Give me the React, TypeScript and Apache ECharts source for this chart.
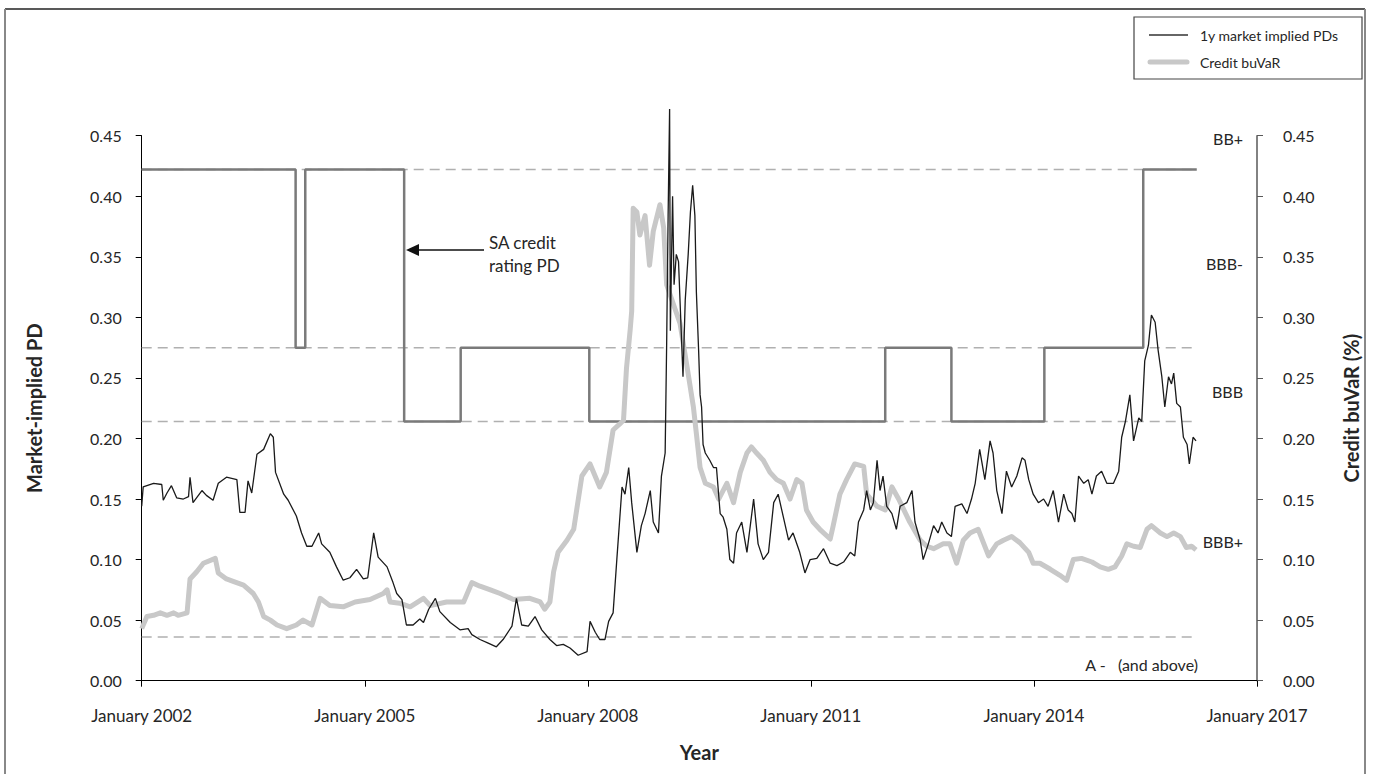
import React, { useEffect, useRef } from "react";
import * as echarts from "echarts";

// x-axis tick years (labels "January YYYY")
const xTicks = [2002, 2005, 2008, 2011, 2014, 2017];

// 1y market implied PDs: [decimal year, PD]
const marketPD: [number, number][] = [
  [2002.0, 0.144], [2002.02, 0.16], [2002.16, 0.163], [2002.27, 0.162], [2002.29, 0.149], [2002.34, 0.155],
  [2002.4, 0.161], [2002.47, 0.151], [2002.56, 0.15], [2002.63, 0.152], [2002.65, 0.168], [2002.69, 0.147],
  [2002.81, 0.157], [2002.87, 0.153], [2002.96, 0.149], [2003.03, 0.163], [2003.14, 0.168], [2003.28, 0.166],
  [2003.32, 0.139], [2003.39, 0.139], [2003.43, 0.165], [2003.48, 0.155], [2003.55, 0.187], [2003.64, 0.191],
  [2003.73, 0.204], [2003.77, 0.201], [2003.8, 0.172], [2003.91, 0.154], [2003.97, 0.149], [2004.08, 0.136],
  [2004.15, 0.122], [2004.22, 0.111], [2004.29, 0.111], [2004.38, 0.122], [2004.42, 0.113], [2004.53, 0.106],
  [2004.62, 0.094], [2004.71, 0.083], [2004.8, 0.085], [2004.89, 0.092], [2004.98, 0.084], [2005.04, 0.085],
  [2005.12, 0.122], [2005.18, 0.102], [2005.3, 0.094], [2005.38, 0.081], [2005.43, 0.072], [2005.5, 0.067],
  [2005.56, 0.046], [2005.65, 0.046], [2005.74, 0.051], [2005.79, 0.048], [2005.86, 0.059], [2005.95, 0.068],
  [2006.01, 0.057], [2006.15, 0.048], [2006.28, 0.042], [2006.39, 0.043], [2006.44, 0.038], [2006.55, 0.034],
  [2006.66, 0.031], [2006.77, 0.028], [2006.86, 0.034], [2006.98, 0.045], [2007.04, 0.068], [2007.11, 0.046],
  [2007.2, 0.045], [2007.29, 0.053], [2007.38, 0.042], [2007.49, 0.034], [2007.58, 0.029], [2007.67, 0.03],
  [2007.76, 0.027], [2007.87, 0.021], [2007.99, 0.024], [2008.03, 0.049], [2008.1, 0.04], [2008.16, 0.034],
  [2008.23, 0.034], [2008.28, 0.049], [2008.34, 0.056], [2008.39, 0.1], [2008.46, 0.16], [2008.5, 0.154],
  [2008.55, 0.176], [2008.59, 0.147], [2008.66, 0.106], [2008.72, 0.128], [2008.77, 0.138], [2008.84, 0.157],
  [2008.88, 0.131], [2008.95, 0.122], [2008.99, 0.169], [2009.04, 0.188], [2009.06, 0.277], [2009.08, 0.384],
  [2009.1, 0.472], [2009.11, 0.289], [2009.14, 0.4], [2009.16, 0.327], [2009.19, 0.352], [2009.22, 0.346],
  [2009.24, 0.314], [2009.28, 0.251], [2009.31, 0.314], [2009.35, 0.352], [2009.38, 0.387], [2009.41, 0.409],
  [2009.44, 0.384], [2009.46, 0.321], [2009.49, 0.273], [2009.51, 0.236], [2009.53, 0.226], [2009.55, 0.195],
  [2009.58, 0.188], [2009.64, 0.182], [2009.69, 0.176], [2009.73, 0.176], [2009.78, 0.138], [2009.82, 0.135],
  [2009.87, 0.125], [2009.91, 0.1], [2009.96, 0.097], [2010.0, 0.122], [2010.07, 0.131], [2010.14, 0.106],
  [2010.23, 0.15], [2010.29, 0.113], [2010.36, 0.1], [2010.43, 0.106], [2010.5, 0.147], [2010.56, 0.154],
  [2010.63, 0.135], [2010.7, 0.116], [2010.76, 0.122], [2010.85, 0.106], [2010.92, 0.089], [2010.99, 0.1],
  [2011.08, 0.101], [2011.17, 0.109], [2011.26, 0.097], [2011.35, 0.095], [2011.44, 0.098], [2011.53, 0.106],
  [2011.59, 0.103], [2011.64, 0.131], [2011.71, 0.141], [2011.75, 0.157], [2011.8, 0.141], [2011.84, 0.147],
  [2011.89, 0.182], [2011.93, 0.157], [2011.97, 0.169], [2012.02, 0.144], [2012.09, 0.138], [2012.15, 0.125],
  [2012.2, 0.144], [2012.29, 0.147], [2012.36, 0.157], [2012.4, 0.131], [2012.47, 0.116], [2012.51, 0.1],
  [2012.58, 0.113], [2012.65, 0.128], [2012.71, 0.122], [2012.76, 0.131], [2012.83, 0.122], [2012.89, 0.119],
  [2012.94, 0.144], [2013.03, 0.146], [2013.1, 0.138], [2013.16, 0.15], [2013.21, 0.163], [2013.27, 0.191],
  [2013.34, 0.166], [2013.41, 0.198], [2013.45, 0.188], [2013.5, 0.157], [2013.57, 0.138], [2013.63, 0.173],
  [2013.7, 0.16], [2013.77, 0.169], [2013.84, 0.184], [2013.88, 0.182], [2013.93, 0.166], [2013.99, 0.154],
  [2014.06, 0.147], [2014.13, 0.15], [2014.19, 0.144], [2014.26, 0.157], [2014.33, 0.131], [2014.4, 0.154],
  [2014.46, 0.141], [2014.51, 0.138], [2014.55, 0.131], [2014.6, 0.169], [2014.67, 0.163], [2014.73, 0.166],
  [2014.78, 0.154], [2014.84, 0.169], [2014.91, 0.173], [2014.98, 0.163], [2015.07, 0.163], [2015.14, 0.173],
  [2015.18, 0.201], [2015.23, 0.214], [2015.29, 0.236], [2015.34, 0.198], [2015.41, 0.217], [2015.45, 0.214],
  [2015.49, 0.264], [2015.54, 0.277], [2015.58, 0.302], [2015.63, 0.296], [2015.67, 0.273], [2015.72, 0.251],
  [2015.76, 0.226], [2015.81, 0.251], [2015.85, 0.245], [2015.88, 0.254], [2015.92, 0.229], [2015.97, 0.226],
  [2016.01, 0.201], [2016.06, 0.195], [2016.09, 0.179], [2016.14, 0.201], [2016.18, 0.198],
];

// Credit buVaR (%): [decimal year, value]
const creditBuVaR: [number, number][] = [
  [2002.0, 0.043], [2002.07, 0.053], [2002.16, 0.054], [2002.25, 0.056], [2002.34, 0.054], [2002.43, 0.056],
  [2002.49, 0.054], [2002.61, 0.056], [2002.65, 0.084], [2002.74, 0.09], [2002.83, 0.097], [2002.99, 0.101],
  [2003.03, 0.089], [2003.14, 0.084], [2003.23, 0.082], [2003.37, 0.079], [2003.5, 0.072], [2003.57, 0.065],
  [2003.64, 0.053], [2003.73, 0.05], [2003.82, 0.046], [2003.95, 0.043], [2004.08, 0.046], [2004.17, 0.05],
  [2004.29, 0.046], [2004.4, 0.068], [2004.53, 0.062], [2004.71, 0.061], [2004.87, 0.065], [2005.07, 0.067],
  [2005.25, 0.072], [2005.3, 0.075], [2005.34, 0.065], [2005.47, 0.064], [2005.61, 0.061], [2005.79, 0.068],
  [2005.88, 0.062], [2006.1, 0.065], [2006.33, 0.065], [2006.44, 0.081], [2006.55, 0.078], [2006.69, 0.075],
  [2006.82, 0.072], [2007.0, 0.067], [2007.22, 0.068], [2007.36, 0.065], [2007.42, 0.059], [2007.49, 0.065],
  [2007.54, 0.09], [2007.6, 0.106], [2007.72, 0.116], [2007.81, 0.125], [2007.92, 0.169], [2008.03, 0.179],
  [2008.16, 0.16], [2008.25, 0.172], [2008.34, 0.207], [2008.43, 0.212], [2008.48, 0.215], [2008.52, 0.258],
  [2008.57, 0.29], [2008.59, 0.305], [2008.61, 0.39], [2008.66, 0.387], [2008.7, 0.368], [2008.77, 0.384],
  [2008.83, 0.343], [2008.88, 0.371], [2008.97, 0.393], [2009.02, 0.374], [2009.06, 0.327], [2009.15, 0.311],
  [2009.24, 0.295], [2009.33, 0.261], [2009.42, 0.226], [2009.46, 0.204], [2009.51, 0.176], [2009.58, 0.163],
  [2009.69, 0.16], [2009.76, 0.15], [2009.87, 0.163], [2009.96, 0.147], [2010.05, 0.172], [2010.14, 0.188],
  [2010.2, 0.193], [2010.27, 0.188], [2010.36, 0.182], [2010.45, 0.172], [2010.54, 0.166], [2010.63, 0.163],
  [2010.72, 0.15], [2010.81, 0.166], [2010.88, 0.163], [2010.94, 0.141], [2011.03, 0.131], [2011.12, 0.125],
  [2011.26, 0.117], [2011.3, 0.128], [2011.39, 0.154], [2011.48, 0.166], [2011.59, 0.179], [2011.71, 0.177],
  [2011.75, 0.154], [2011.89, 0.144], [2012.0, 0.141], [2012.09, 0.16], [2012.18, 0.15], [2012.33, 0.131],
  [2012.47, 0.116], [2012.56, 0.111], [2012.65, 0.109], [2012.78, 0.113], [2012.87, 0.113], [2012.96, 0.097],
  [2013.05, 0.116], [2013.14, 0.122], [2013.25, 0.125], [2013.39, 0.103], [2013.5, 0.113], [2013.59, 0.116],
  [2013.7, 0.119], [2013.81, 0.114], [2013.93, 0.106], [2013.99, 0.097], [2014.08, 0.097], [2014.22, 0.092],
  [2014.35, 0.087], [2014.44, 0.083], [2014.53, 0.1], [2014.64, 0.101], [2014.78, 0.098], [2014.89, 0.094],
  [2015.0, 0.092], [2015.09, 0.094], [2015.18, 0.103], [2015.25, 0.113], [2015.34, 0.111], [2015.43, 0.11],
  [2015.52, 0.125], [2015.58, 0.128], [2015.7, 0.122], [2015.79, 0.119], [2015.88, 0.122], [2015.97, 0.119],
  [2016.05, 0.11], [2016.12, 0.111], [2016.18, 0.108],
];

// SA credit rating PD (step changes): [decimal year, PD]
const ratingPD: [number, number][] = [
  [2002.0, 0.422], [2004.07, 0.275], [2004.2, 0.422], [2005.53, 0.214], [2006.29, 0.275], [2008.02, 0.214],
  [2012.0, 0.275], [2012.89, 0.214], [2014.14, 0.275], [2015.47, 0.422], [2016.19, 0.422],
];

// Rating band boundaries (dashed lines) and their span
const bandLevels = [0.422, 0.275, 0.214, 0.036];
const bandSpan = [2002.0, 2016.19];
const bandLabels = ["BB+", "BBB-", "BBB", "BBB+", "A -   (and above)"];

const FONT = "Lato, 'Open Sans', sans-serif";
const TXT = "#262626";

export default function App() {
  const ref = useRef<HTMLDivElement>(null);
  useEffect(() => {
    if (!ref.current) return;
    const chart = echarts.init(ref.current, undefined, { renderer: "svg" });

    const dashedSeries = bandLevels.map((lvl, i) => ({
      name: "band" + i,
      type: "line",
      data: [[bandSpan[0], lvl], [bandSpan[1], lvl]],
      symbol: "none",
      silent: true,
      lineStyle: { color: "#b0b0b0", width: 1.5, type: [10, 6] },
      z: 1,
    }));

    const labelY = [138, 263, 391, 541, 664];

    chart.setOption({
      animation: false,
      backgroundColor: "#ffffff",
      textStyle: { fontFamily: FONT },
      grid: { left: 141.7, right: 116, top: 135.7, bottom: 93.3, containLabel: false },
      xAxis: {
        type: "value",
        min: xTicks[0],
        max: xTicks[xTicks.length - 1],
        interval: 3,
        axisLine: { lineStyle: { color: "#000", width: 1 } },
        axisTick: { length: 6, lineStyle: { color: "#000" } },
        splitLine: { show: false },
        axisLabel: {
          formatter: (v: number) => "January " + v,
          margin: 26,
          fontSize: 17,
          color: TXT,
          fontFamily: FONT,
        },
        name: "Year",
        nameLocation: "middle",
        nameGap: 61,
        nameTextStyle: { fontSize: 20, fontWeight: "bold", color: TXT, fontFamily: FONT },
      },
      yAxis: [
        {
          type: "value",
          min: 0,
          max: 0.45,
          interval: 0.05,
          position: "left",
          axisLine: { show: true, lineStyle: { color: "#000", width: 1 } },
          axisTick: { show: true, length: 6, lineStyle: { color: "#000" } },
          splitLine: { show: false },
          axisLabel: { formatter: (v: number) => v.toFixed(2), margin: 20, fontSize: 16, color: TXT, fontFamily: FONT },
          name: "Market-implied PD",
          nameLocation: "middle",
          nameGap: 98,
          nameTextStyle: { fontSize: 20, fontWeight: "bold", color: TXT, fontFamily: FONT },
        },
        {
          type: "value",
          min: 0,
          max: 0.45,
          interval: 0.05,
          position: "right",
          axisLine: { show: true, lineStyle: { color: "#595959", width: 1.5 } },
          axisTick: { show: true, length: 6, lineStyle: { color: "#595959" } },
          splitLine: { show: false },
          axisLabel: { formatter: (v: number) => v.toFixed(2), margin: 26, fontSize: 16, color: TXT, fontFamily: FONT },
          name: "Credit buVaR (%)",
          nameLocation: "middle",
          nameGap: 84,
          nameRotate: 90,
          nameTextStyle: { fontSize: 20, fontWeight: "bold", color: TXT, fontFamily: FONT },
        },
      ],
      series: [
        ...dashedSeries,
        {
          name: "SA credit rating PD",
          type: "line",
          step: "end",
          data: ratingPD,
          symbol: "none",
          lineStyle: { color: "#7a7a7a", width: 2.5 },
          z: 2,
        },
        {
          name: "Credit buVaR",
          type: "line",
          yAxisIndex: 1,
          data: creditBuVaR,
          symbol: "none",
          lineStyle: { color: "#c8c8c8", width: 5, join: "round" },
          z: 3,
        },
        {
          name: "1y market implied PDs",
          type: "line",
          data: marketPD,
          symbol: "none",
          clip: false,
          lineStyle: { color: "#1a1a1a", width: 1.3 },
          z: 4,
        },
      ],
      graphic: [
        // outer frame
        { type: "line", shape: { x1: 5, y1: 9, x2: 1365, y2: 9 }, style: { stroke: "#222", lineWidth: 1.5 } },
        { type: "line", shape: { x1: 5, y1: 9, x2: 5, y2: 774 }, style: { stroke: "#888", lineWidth: 2 } },
        { type: "line", shape: { x1: 1365, y1: 9, x2: 1365, y2: 774 }, style: { stroke: "#888", lineWidth: 2 } },
        // legend
        { type: "rect", shape: { x: 1134, y: 17, width: 228, height: 62 }, style: { fill: "#fff", stroke: "#444", lineWidth: 1.2 } },
        { type: "line", shape: { x1: 1149, y1: 35, x2: 1188, y2: 35 }, style: { stroke: "#333", lineWidth: 1.5 } },
        { type: "line", shape: { x1: 1150, y1: 62, x2: 1187, y2: 62 }, style: { stroke: "#c8c8c8", lineWidth: 5, lineCap: "round" } },
        { type: "text", x: 1200, y: 35, style: { text: "1y market implied PDs", fontSize: 14, fill: TXT, fontFamily: FONT, verticalAlign: "middle" } },
        { type: "text", x: 1200, y: 62, style: { text: "Credit buVaR", fontSize: 14, fill: TXT, fontFamily: FONT, verticalAlign: "middle" } },
        // annotation
        { type: "line", shape: { x1: 414, y1: 250, x2: 484, y2: 250 }, style: { stroke: "#111", lineWidth: 1.3 } },
        { type: "polygon", shape: { points: [[406, 250], [419, 244], [419, 256]] }, style: { fill: "#111" } },
        { type: "text", x: 489, y: 242, style: { text: "SA credit", fontSize: 17, fill: TXT, fontFamily: FONT, verticalAlign: "middle" } },
        { type: "text", x: 489, y: 265, style: { text: "rating PD", fontSize: 17, fill: TXT, fontFamily: FONT, verticalAlign: "middle" } },
        // band labels
        ...bandLabels.map((t, i) => ({
          type: "text",
          x: i === 4 ? 1198 : 1243,
          y: labelY[i],
          style: { text: t, fontSize: 16, fill: TXT, fontFamily: FONT, align: "right", verticalAlign: "middle" },
        })),
      ],
    });
    return () => chart.dispose();
  }, []);
  return <div ref={ref} style={{ position: "fixed", left: 0, top: 0, width: 1373, height: 774, background: "#fff" }} />;
}
